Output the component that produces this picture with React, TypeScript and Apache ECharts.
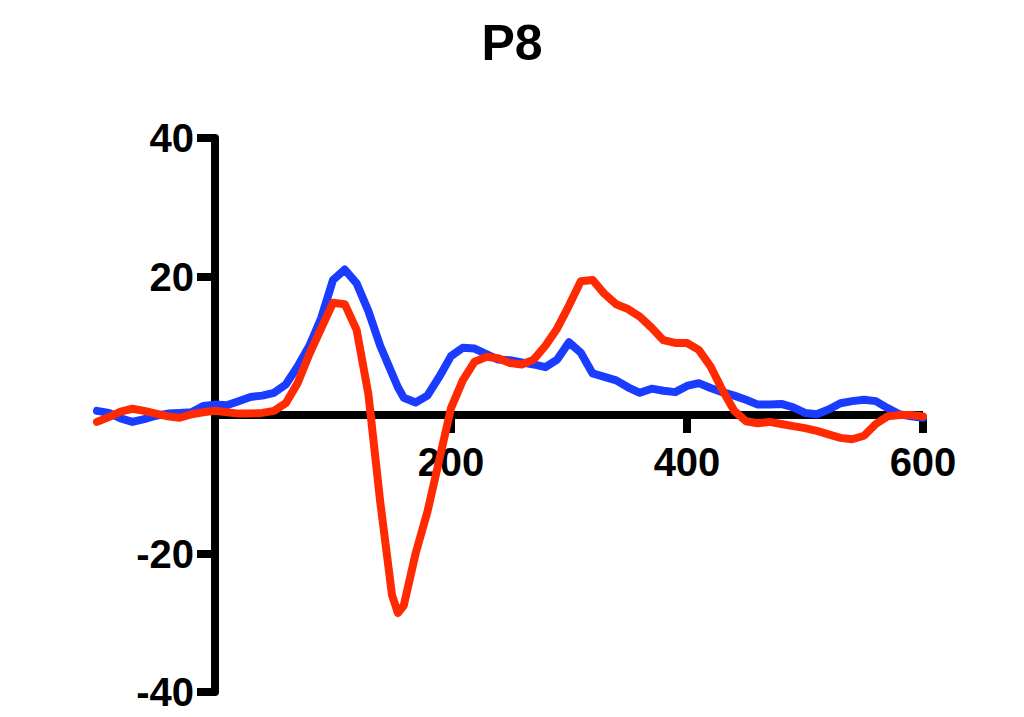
import React, { useEffect, useRef } from "react";
import * as echarts from "echarts";

const times: number[] = [
  -100, -90, -80, -70, -60, -50, -40, -30, -20, -10,
  0, 10, 20, 30, 40, 50, 60, 70, 80, 90,
  100, 110, 120, 130, 140, 150, 155, 160, 170, 180, 190,
  200, 210, 220, 230, 240, 250, 260, 270, 280, 290,
  300, 310, 320, 330, 340, 350, 360, 370, 380, 390,
  400, 410, 420, 430, 440, 450, 460, 470, 480, 490,
  500, 510, 520, 530, 540, 550, 560, 570, 580, 590, 600,
];

const blueValues: number[] = [
  0.6, 0.3, -0.5, -1.0, -0.6, -0.1, 0.2, 0.3, 0.4, 1.3,
  1.5, 1.4, 2.0, 2.6, 2.8, 3.2, 4.4, 7.0, 10.0, 14.0,
  19.5, 21.0, 19.0, 15.0, 10.0, 6.0, 4.0, 2.5, 1.8, 2.8, 5.5,
  8.5, 9.7, 9.6, 8.8, 8.0, 7.9, 7.6, 7.3, 6.9, 8.0,
  10.5, 9.0, 6.0, 5.5, 5.0, 4.0, 3.2, 3.8, 3.5, 3.3,
  4.2, 4.6, 3.9, 3.3, 2.8, 2.2, 1.5, 1.5, 1.6, 1.1,
  0.3, 0.1, 0.8, 1.7, 2.0, 2.2, 2.0, 1.0, 0.1, -0.2, -0.4,
];

const redValues: number[] = [
  -1.0, -0.3, 0.5, 0.9, 0.6, 0.2, -0.2, -0.4, 0.1, 0.4,
  0.6, 0.4, 0.2, 0.2, 0.3, 0.6, 1.7, 4.6, 8.8, 12.5,
  16.2, 16.0, 12.3, 3.0, -12.5, -26.0, -28.6, -27.5, -20.0, -14.0, -6.5,
  1.0, 5.0, 7.7, 8.4, 8.2, 7.5, 7.3, 8.0, 10.0, 12.5,
  15.8, 19.3, 19.5, 17.5, 16.0, 15.3, 14.2, 12.6, 10.8, 10.4,
  10.4, 9.4, 7.0, 3.6, 0.6, -0.9, -1.2, -1.0, -1.3, -1.6,
  -1.9, -2.3, -2.8, -3.3, -3.5, -3.0, -1.3, -0.2, 0.0, 0.0, -0.2,
];

const xTickValues: number[] = [200, 400, 600];
const yTickValues: number[] = [-40, -20, 20, 40];
const xAxisLinePoints: number[][] = [[0, 0], [600, 0]];

const FONT = "'Liberation Sans', Arial, Helvetica, sans-serif";

const GRID_LEFT = 97;
const GRID_RIGHT = 101;
const GRID_TOP = 138;
const GRID_BOTTOM = 25;
const X_MIN = -100;
const X_MAX = 600;
const Y_MIN = -40;
const Y_MAX = 40;

export default function App() {
  const ref = useRef<HTMLDivElement>(null);

  useEffect(() => {
    if (!ref.current) return;
    const chart = echarts.init(ref.current, undefined, { renderer: "svg" });
    const blue = times.map((t, i) => [t, blueValues[i]]);
    const red = times.map((t, i) => [t, redValues[i]]);

    const gridW = 1024 - GRID_LEFT - GRID_RIGHT;
    const gridH = 717 - GRID_TOP - GRID_BOTTOM;
    // shift axes so they cross at (0, 0)
    const yOffset = -((0 - X_MIN) / (X_MAX - X_MIN)) * gridW;
    const xOffset = -((0 - Y_MIN) / (Y_MAX - Y_MIN)) * gridH;

    chart.setOption({
      animation: false,
      backgroundColor: "#ffffff",
      title: {
        text: "P8",
        left: "center",
        top: 13,
        textStyle: {
          fontFamily: FONT,
          fontWeight: "bold",
          fontSize: 50,
          color: "#000000",
        },
      },
      grid: {
        left: GRID_LEFT,
        right: GRID_RIGHT,
        top: GRID_TOP,
        bottom: GRID_BOTTOM,
        containLabel: false,
        outerBoundsMode: "none",
      },
      xAxis: {
        type: "value",
        position: "bottom",
        offset: xOffset,
        min: X_MIN,
        max: X_MAX,
        axisLine: { show: false, onZero: false },
        axisTick: {
          show: true,
          customValues: xTickValues,
          length: 18,
          lineStyle: { color: "#000000", width: 8 },
        },
        axisLabel: {
          show: true,
          customValues: xTickValues,
          margin: 27,
          fontFamily: FONT,
          fontWeight: "bold",
          fontSize: 40,
          color: "#000000",
        },
        splitLine: { show: false },
      },
      yAxis: {
        type: "value",
        position: "left",
        offset: yOffset,
        min: Y_MIN,
        max: Y_MAX,
        axisLine: {
          show: true,
          onZero: false,
          lineStyle: { color: "#000000", width: 8 },
        },
        axisTick: {
          show: true,
          customValues: yTickValues,
          length: 18,
          lineStyle: { color: "#000000", width: 8 },
        },
        axisLabel: {
          show: true,
          customValues: yTickValues,
          margin: 21,
          fontFamily: FONT,
          fontWeight: "bold",
          fontSize: 40,
          color: "#000000",
        },
        splitLine: { show: false },
      },
      series: [
        {
          name: "xaxis",
          type: "line",
          data: xAxisLinePoints,
          showSymbol: false,
          symbol: "none",
          silent: true,
          z: 1,
          lineStyle: { color: "#000000", width: 8, cap: "butt" },
        },
        {
          name: "blue",
          type: "line",
          data: blue,
          showSymbol: false,
          symbol: "none",
          z: 3,
          lineStyle: { color: "#1a3cff", width: 8, join: "round", cap: "round" },
        },
        {
          name: "red",
          type: "line",
          data: red,
          showSymbol: false,
          symbol: "none",
          z: 4,
          lineStyle: { color: "#ff2a00", width: 8, join: "round", cap: "round" },
        },
      ],
    });

    return () => chart.dispose();
  }, []);

  return (
    <div
      ref={ref}
      style={{ position: "fixed", left: 0, top: 0, width: 1024, height: 717, background: "#fff" }}
    />
  );
}
